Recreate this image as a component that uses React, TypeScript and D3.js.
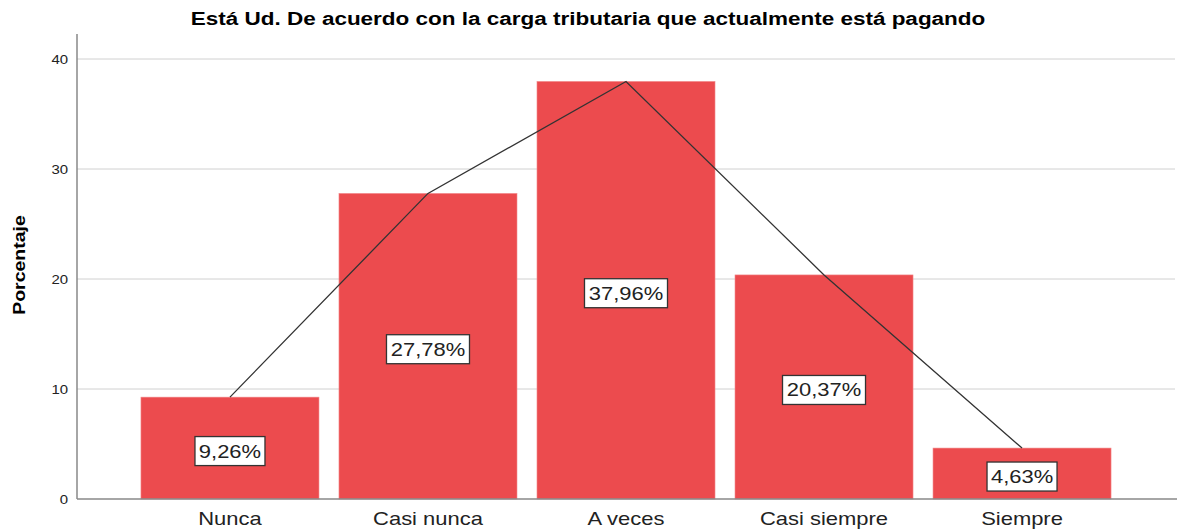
import React from "react";
import * as d3 from "d3";

const categories = ["Nunca", "Casi nunca", "A veces", "Casi siempre", "Siempre"];
const values = [9.26, 27.78, 37.96, 20.37, 4.63];
const valueLabels = ["9,26%", "27,78%", "37,96%", "20,37%", "4,63%"];
const yTicks = [0, 10, 20, 30, 40];
const title = "Está Ud. De acuerdo con la carga tributaria que actualmente está pagando";
const yTitle = "Porcentaje";

const W = 1179;
const H = 532;
const left = 77;
const right = 1175;
const y0 = 499;
const SX = 1.22;

export default function App() {
  const x = d3
    .scaleBand<string>()
    .domain(categories)
    .range([left, right])
    .paddingInner(0.101)
    .paddingOuter(0.323);
  const y = d3.scaleLinear().domain([0, 40]).range([y0, 59]);
  const line = d3
    .line<number>()
    .x((_, i) => (x(categories[i]) as number) + x.bandwidth() / 2)
    .y((d) => y(d));

  return (
    <svg
      width={W}
      height={H}
      style={{ position: "absolute", left: 0, top: 0, background: "#fff" }}
      fontFamily="'Liberation Sans', Arial, sans-serif"
    >
      <text
        transform={`translate(588,25) scale(1.25,1)`}
        textAnchor="middle"
        fontWeight="bold"
        fontSize={18}
        fill="#000"
      >
        {title}
      </text>
      {yTicks.map((t) => (
        <g key={t}>
          {t > 0 && (
            <line x1={left} x2={right} y1={y(t)} y2={y(t)} stroke="#d0d0d0" strokeWidth={1} />
          )}
          <text
            transform={`translate(68,${y(t) + 4.5}) scale(1.15,1)`}
            textAnchor="end"
            fontSize={13}
            fill="#222"
          >
            {t}
          </text>
        </g>
      ))}
      <text
        transform={`translate(25,265) rotate(-90) scale(${SX},1)`}
        textAnchor="middle"
        fontWeight="bold"
        fontSize={16}
        fill="#000"
      >
        {yTitle}
      </text>
      {categories.map((c, i) => (
        <rect
          key={c}
          x={x(c)}
          y={y(values[i])}
          width={x.bandwidth()}
          height={y0 - y(values[i])}
          fill="#EC4B4E"
          stroke="#F28A8C"
          strokeWidth={0.6}
        />
      ))}
      <line x1={left} x2={left} y1={34} y2={y0} stroke="#888" strokeWidth={1.5} />
      <line x1={left} x2={right + 2} y1={y0} y2={y0} stroke="#888" strokeWidth={1.5} />
      <path d={line(values) || ""} fill="none" stroke="#333" strokeWidth={1.3} />
      {categories.map((c, i) => {
        const cx = (x(c) as number) + x.bandwidth() / 2;
        const cy = y(values[i] / 2) + 3;
        const w = valueLabels[i].length * 13 + 5;
        return (
          <g key={c + "l"}>
            <rect
              x={cx - w / 2}
              y={cy - 14.5}
              width={w}
              height={29}
              fill="#fff"
              stroke="#333"
              strokeWidth={1.3}
            />
            <text
              transform={`translate(${cx},${cy + 6.5}) scale(${SX},1)`}
              textAnchor="middle"
              fontSize={18}
              fill="#222"
            >
              {valueLabels[i]}
            </text>
          </g>
        );
      })}
      {categories.map((c) => (
        <text
          key={c + "x"}
          transform={`translate(${(x(c) as number) + x.bandwidth() / 2},525) scale(${SX},1)`}
          textAnchor="middle"
          fontSize={18}
          fill="#222"
        >
          {c}
        </text>
      ))}
    </svg>
  );
}
